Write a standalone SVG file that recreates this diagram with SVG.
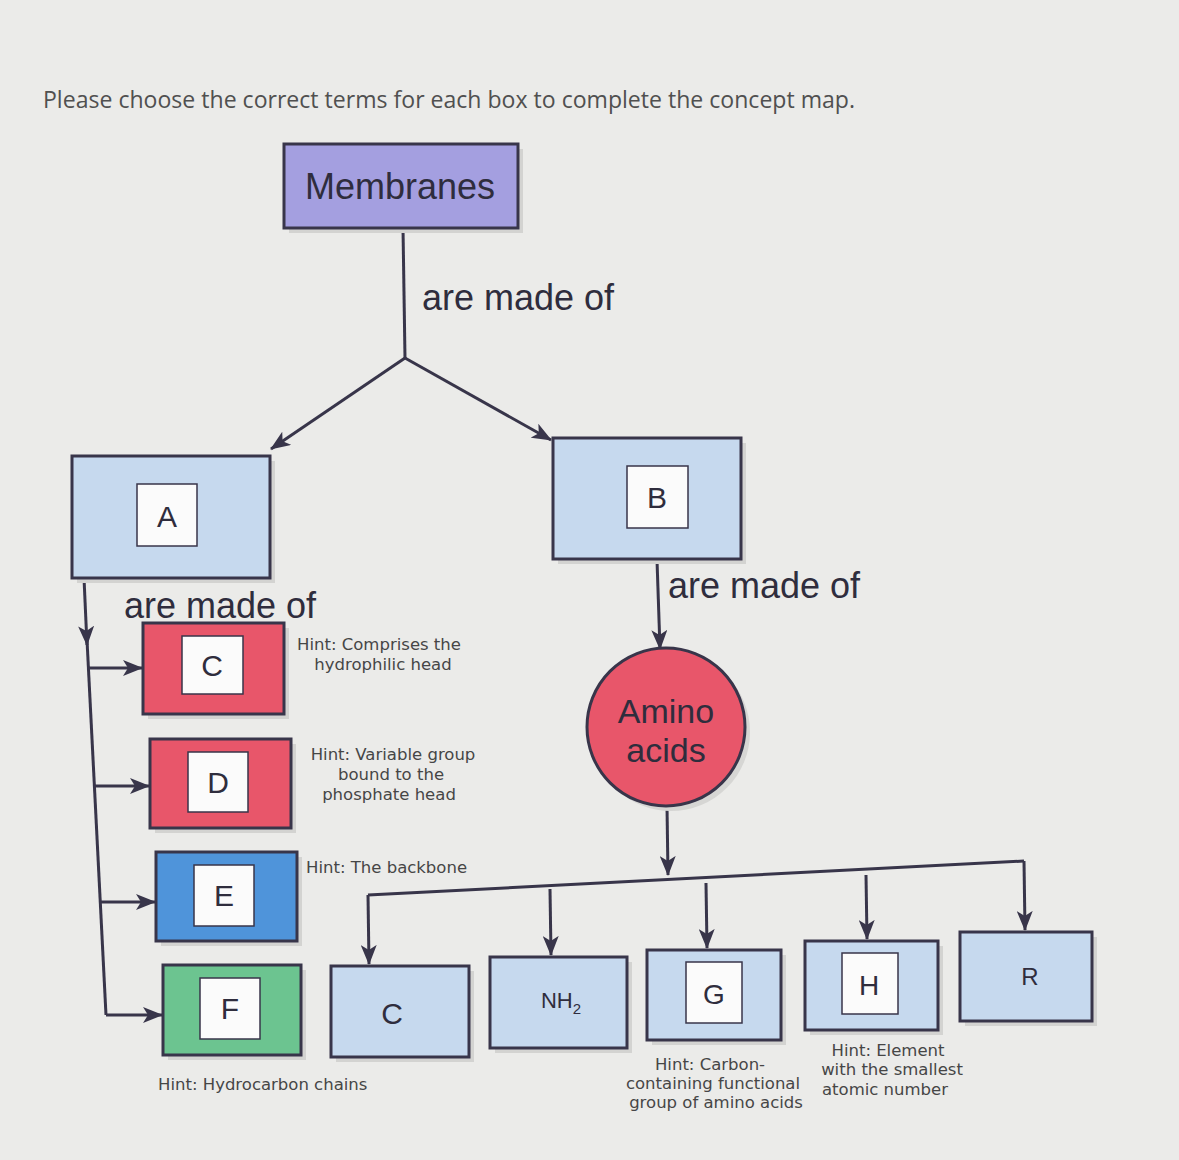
<svg xmlns="http://www.w3.org/2000/svg" width="1179" height="1160" viewBox="0 0 1179 1160">
<defs>
<marker id="arr" viewBox="0 0 20 16" refX="19" refY="8" markerWidth="20" markerHeight="16" markerUnits="userSpaceOnUse" orient="auto">
<path d="M0,0 L20,8 L0,16 L5,8 z" fill="#38354a"/>
</marker>
<style>
.bg{fill:#ebebe9}
.box{stroke:#38354a;stroke-width:3}
.sh{fill:#d3d3d1}
.purple{fill:#a49fe0}
.lblue{fill:#c6d9ee}
.red{fill:#e8566a}
.blue{fill:#4f94da}
.green{fill:#6cc490}
.inner{fill:#fbfbfb;stroke:#38354a;stroke-width:1.5}
.lt{font-family:"Liberation Sans",Arial,sans-serif;fill:#2f2d3d}
.big{font-size:36px}
.let{font-size:30px;text-anchor:middle}
.hint{font-family:"DejaVu Sans",Verdana,sans-serif;font-size:16.5px;fill:#464646}
.mid{text-anchor:middle}
.con{fill:none;stroke:#38354a;stroke-width:3}
</style>
</defs>
<rect class="bg" x="0" y="0" width="1179" height="1160"/>
<text x="43" y="108" font-family="'Open Sans','Liberation Sans',sans-serif" font-size="23" fill="#505050" textLength="812" lengthAdjust="spacingAndGlyphs">Please choose the correct terms for each box to complete the concept map.</text>

<g id="connectors">
<path class="con" d="M403,228 L405,358"/>
<path class="con" d="M405,358 L271,449" marker-end="url(#arr)"/>
<path class="con" d="M405,358 L551,440" marker-end="url(#arr)"/>
<path class="con" d="M84,578 L87,645" marker-end="url(#arr)"/>
<path class="con" d="M87,640 L106,1015"/>
<path class="con" d="M88,668 L142,668" marker-end="url(#arr)"/>
<path class="con" d="M94,786 L149,786" marker-end="url(#arr)"/>
<path class="con" d="M100,902 L155,902" marker-end="url(#arr)"/>
<path class="con" d="M106,1015 L162,1015" marker-end="url(#arr)"/>
<path class="con" d="M657,560 L660,649" marker-end="url(#arr)"/>
<path class="con" d="M667,806 L668,875" marker-end="url(#arr)"/>
<path class="con" d="M368,895 L1024,861"/>
<path class="con" d="M368,895 L369,964" marker-end="url(#arr)"/>
<path class="con" d="M1024,861 L1025,930" marker-end="url(#arr)"/>
<path class="con" d="M550,889 L551,955" marker-end="url(#arr)"/>
<path class="con" d="M706,883 L707,948" marker-end="url(#arr)"/>
<path class="con" d="M866,875 L867,939" marker-end="url(#arr)"/>
<text class="lt big" x="422" y="310">are made of</text>
<text class="lt big" x="124" y="618">are made of</text>
<text class="lt big" x="668" y="598">are made of</text>
</g>

<g id="membranes">
<rect class="sh" x="289" y="149" width="234" height="84"/>
<rect class="box purple" x="284" y="144" width="234" height="84"/>
<text class="lt big mid" x="400" y="199">Membranes</text>
</g>

<g id="nodeA">
<rect class="sh" x="77" y="461" width="198" height="122"/>
<rect class="box lblue" x="72" y="456" width="198" height="122"/>
<rect class="inner" x="137" y="484" width="60" height="62"/>
<text class="lt let" x="167" y="527">A</text>
</g>

<g id="nodeB">
<rect class="sh" x="558" y="443" width="188" height="121"/>
<rect class="box lblue" x="553" y="438" width="188" height="121"/>
<rect class="inner" x="627" y="466" width="61" height="62"/>
<text class="lt let" x="657" y="508">B</text>
</g>

<g id="nodeC">
<rect class="sh" x="148" y="628" width="141" height="91"/>
<rect class="box red" x="143" y="623" width="141" height="91"/>
<rect class="inner" x="182" y="636" width="61" height="58"/>
<text class="lt let" x="212" y="676">C</text>
<text class="hint mid" x="379" y="650">Hint: Comprises the</text>
<text class="hint mid" x="383" y="670">hydrophilic head</text>
</g>

<g id="nodeD">
<rect class="sh" x="155" y="744" width="141" height="89"/>
<rect class="box red" x="150" y="739" width="141" height="89"/>
<rect class="inner" x="188" y="752" width="60" height="60"/>
<text class="lt let" x="218" y="793">D</text>
<text class="hint mid" x="393" y="760">Hint: Variable group</text>
<text class="hint mid" x="391" y="780">bound to the</text>
<text class="hint mid" x="389" y="800">phosphate head</text>
</g>

<g id="nodeE">
<rect class="sh" x="161" y="857" width="141" height="89"/>
<rect class="box blue" x="156" y="852" width="141" height="89"/>
<rect class="inner" x="194" y="865" width="60" height="61"/>
<text class="lt let" x="224" y="906">E</text>
<text class="hint" x="306" y="873">Hint: The backbone</text>
</g>

<g id="nodeF">
<rect class="sh" x="168" y="970" width="138" height="90"/>
<rect class="box green" x="163" y="965" width="138" height="90"/>
<rect class="inner" x="200" y="978" width="60" height="61"/>
<text class="lt let" x="230" y="1019">F</text>
<text class="hint" x="158" y="1090">Hint: Hydrocarbon chains</text>
</g>

<g id="aminoacids">
<circle cx="671" cy="732" r="79" fill="#d6d6d4"/>
<circle class="box red" cx="666" cy="727" r="79"/>
<text class="lt mid" x="666" y="723" font-size="34">Amino</text>
<text class="lt mid" x="666" y="762" font-size="34">acids</text>
</g>

<g id="nodeC2">
<rect class="sh" x="336" y="971" width="138" height="91"/>
<rect class="box lblue" x="331" y="966" width="138" height="91"/>
<text class="lt let" x="392" y="1024">C</text>
</g>

<g id="nodeNH2">
<rect class="sh" x="495" y="962" width="137" height="91"/>
<rect class="box lblue" x="490" y="957" width="137" height="91"/>
<text class="lt mid" x="561" y="1008" font-size="22">NH<tspan font-size="15" dy="6">2</tspan></text>
</g>

<g id="nodeG">
<rect class="sh" x="652" y="955" width="134" height="90"/>
<rect class="box lblue" x="647" y="950" width="134" height="90"/>
<rect class="inner" x="686" y="962" width="56" height="61"/>
<text class="lt mid" x="714" y="1004" font-size="28">G</text>
<text class="hint mid" x="710" y="1070">Hint: Carbon-</text>
<text class="hint mid" x="713" y="1089">containing functional</text>
<text class="hint mid" x="716" y="1108">group of amino acids</text>
</g>

<g id="nodeH">
<rect class="sh" x="810" y="946" width="133" height="89"/>
<rect class="box lblue" x="805" y="941" width="133" height="89"/>
<rect class="inner" x="842" y="953" width="56" height="61"/>
<text class="lt mid" x="869" y="995" font-size="28">H</text>
<text class="hint mid" x="888" y="1056">Hint: Element</text>
<text class="hint mid" x="892" y="1075">with the smallest</text>
<text class="hint mid" x="885" y="1095">atomic number</text>
</g>

<g id="nodeR">
<rect class="sh" x="965" y="937" width="132" height="89"/>
<rect class="box lblue" x="960" y="932" width="132" height="89"/>
<text class="lt mid" x="1030" y="985" font-size="24">R</text>
</g>
</svg>
